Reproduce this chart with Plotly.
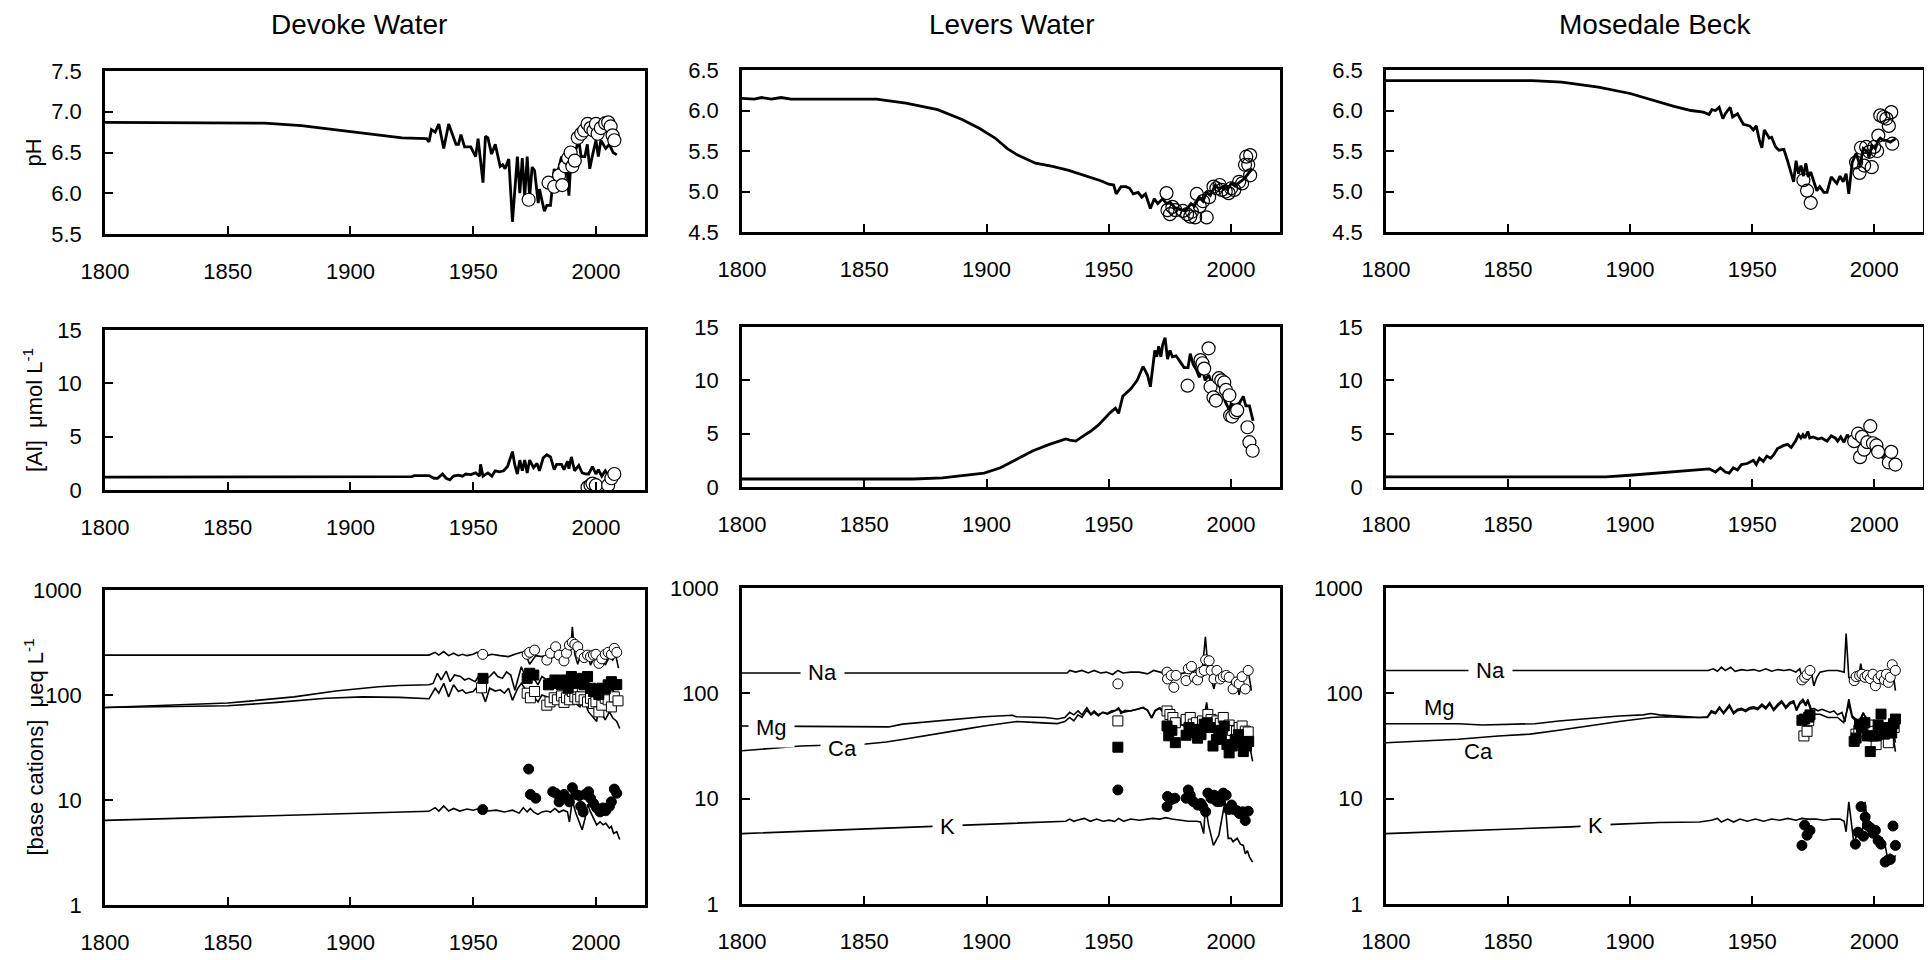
import math
import plotly.graph_objects as go

W, H = 1932, 960
FONT = "Liberation Sans, Arial, Helvetica, sans-serif"
PAGE_OFF = 8  # the html page places the figure 8 px from the top-left corner

# ======================= DATA =======================
# ---------- Devoke Water ----------
dev_ph_yr = [1800, 1865, 1880, 1894, 1908, 1921, 1931, 1932, 1933, 1934.5, 1936, 1938, 1940, 1943, 1944, 1945,
             1946.5, 1949, 1951, 1952, 1954, 1955, 1956, 1957.5, 1959, 1961, 1962, 1963, 1964.5, 1966, 1968,
             1969, 1970, 1971, 1972, 1973, 1974, 1975, 1976.5, 1977, 1979, 1980, 1981.5, 1983, 1984, 1986, 1987,
             1988, 1989, 1990, 1992, 1993, 1994, 1995.5, 1996.5, 1997.5, 1998.5, 2000, 2001, 2002, 2004, 2005.5,
             2007, 2008.5]
dev_ph = [6.87, 6.86, 6.83, 6.78, 6.73, 6.68, 6.67, 6.63, 6.78, 6.75, 6.85, 6.55, 6.85, 6.60, 6.60, 6.72,
          6.57, 6.57, 6.45, 6.67, 6.13, 6.70, 6.68, 6.48, 6.60, 6.33, 6.35, 6.30, 6.42, 5.65, 6.45,
          6.00, 6.43, 5.95, 6.45, 5.95, 6.32, 6.28, 5.88, 6.05, 5.78, 5.85, 5.85, 6.30, 6.20, 6.45, 6.30,
          6.40, 5.97, 6.50, 6.55, 6.65, 6.45, 6.45, 6.60, 6.30, 6.45, 6.65, 6.45, 6.65, 6.55, 6.60,
          6.50, 6.47]
dev_ph_obs_yr = [1972.6, 1980.7, 1983, 1985, 1986.3, 1987.5, 1988.7, 1989.7, 1990.4, 1991.4, 1992.6, 1994, 1995.2,
                 1996.6, 1997.8, 1999, 2000, 2000.7, 2002, 2003.8, 2005, 2006, 2006.8, 2007.5]
dev_ph_obs = [5.92, 6.13, 6.08, 6.22, 6.10, 6.33, 6.43, 6.50, 6.33, 6.40, 6.68, 6.73, 6.77,
              6.85, 6.80, 6.77, 6.85, 6.73, 6.80, 6.86, 6.87, 6.82, 6.71, 6.65]

dev_al_yr = [1800, 1902, 1903, 1925, 1926, 1932, 1934, 1935.5, 1937.5, 1939, 1940.5, 1942, 1944, 1945.6, 1947,
             1949, 1951, 1952.6, 1953, 1954, 1956, 1957.6, 1959, 1960.7, 1962.4, 1964, 1966, 1967, 1968, 1969,
             1970, 1971, 1972, 1973, 1974.6, 1976, 1977, 1978.5, 1980, 1981.5, 1983, 1984, 1986, 1987, 1988.4,
             1989, 1990, 1991.3, 1993, 1994.4, 1996, 1997, 1998.6, 2000, 2001, 2002.4, 2003.8, 2005, 2006.3, 2007]
dev_al = [1.2, 1.2, 1.25, 1.25, 1.35, 1.35, 1.1, 1.1, 1.5, 1.1, 0.95, 1.3, 1.4, 1.3, 1.5,
          1.45, 1.6, 1.3, 2.4, 1.3, 1.6, 1.3, 1.8, 1.7, 1.8, 2.2, 3.6, 2.3, 1.5, 2.8,
          1.8, 2.8, 1.6, 2.8, 2.1, 2.5, 1.8, 3.0, 3.3, 3.1, 1.9, 2.4, 2.4, 1.9, 2.7,
          2.0, 3.1, 1.8, 2.3, 1.6, 1.5, 1.5, 2.2, 1.5, 1.9, 1.3, 1.8, 1.4, 1.8, 1.4]
dev_al_obs_yr = [1996.6, 1997.8, 1998.6, 2000, 2005, 2006.3, 2007.5]
dev_al_obs = [0.25, 0.45, 0.6, 0.45, 0.45, 1.1, 1.5]

dev_na_yr = [1800, 1932, 1934.5, 1936, 1938, 1940, 1942, 1944, 1945.6, 1947.5, 1950, 1951.6, 1954, 1957.6, 1961,
             1964.4, 1967, 1969.6, 1971, 1973, 1975.5, 1978, 1980, 1981.5, 1985, 1987.5, 1989.7, 1990.4, 1991.4,
             1992.6, 1994, 1995, 1996.6, 1997.8, 1999.5, 2001, 2002.4, 2003.8, 2005.5, 2006.8, 2008, 2009.2]
dev_na = [240, 240, 255, 240, 259, 237, 250, 237, 244, 237, 244, 255, 232, 244, 237,
          232, 244, 255, 255, 196, 237, 232, 240, 223, 240, 250, 259, 447, 244,
          196, 250, 207, 240, 193, 232, 207, 255, 193, 232, 215, 244, 180]
dev_na_obs_yr = [1953.9, 1972, 1973, 1975, 1980, 1981.5, 1983.6, 1985, 1987, 1988, 1989.2, 1990.4, 1991.4, 1992.6,
                 1993.8, 1995.2, 1996.6, 1997.8, 1999, 2000, 2001.2, 2002.4, 2003.8, 2005, 2006.3, 2007.5, 2008.5]
dev_na_obs = [244, 244, 255, 268, 215, 250, 288, 240, 211, 250, 299, 317, 304, 288,
              244, 227, 240, 232, 240, 244, 200, 221, 244, 255, 244, 278, 255]

dev_ca_yr = [1800, 1830, 1850, 1860, 1877, 1894, 1911.5, 1920, 1932, 1933.7, 1935.4, 1937, 1939, 1940.6, 1942.4,
             1944.8, 1946.5, 1948.2, 1950.8, 1952.5, 1954, 1956.7, 1958.5, 1960, 1961.9, 1963.6, 1965.3, 1967,
             1968.2, 1969.6, 1971, 1972, 1973.3, 1974.7, 1976.4, 1978, 1980, 1985, 1987.5, 1990.4, 1992.6,
             1994.4, 1996, 1997.8, 1999.5, 2001, 2002.4, 2004, 2005.5, 2007, 2009]
dev_ca = [76, 80, 84, 88, 96, 109, 120, 123, 125, 129, 161, 139, 169, 134, 155,
          150, 139, 144, 134, 155, 134, 150, 166, 150, 144, 166, 155, 111,
          144, 186, 155, 180, 144, 144, 125, 150, 139, 144, 134, 144, 120,
          139, 113, 125, 108, 98, 116, 103, 116, 110, 96]
dev_ca_obs_yr = [1954, 1972, 1973, 1974.7, 1980.7, 1982, 1983.3, 1984.7, 1986, 1987.5, 1988.7, 1990, 1991.4,
                 1992.6, 1993.8, 1995.2, 1996.6, 1997.8, 1999, 2000, 2001.2, 2002.4, 2003.8, 2005, 2006.3,
                 2007.5, 2008.5]
dev_ca_obs = [144, 144, 161, 155, 125, 129, 139, 129, 125, 139, 116, 150, 136,
              129, 144, 125, 150, 116, 108, 112, 101, 116, 114, 125, 134,
              125, 126]

dev_mg_yr = [1800, 1850, 1870, 1890, 1905, 1920, 1932, 1934.5, 1936, 1938, 1940, 1942, 1944, 1945.6, 1947, 1950,
             1951.7, 1953.4, 1955, 1956.7, 1959, 1961, 1962.7, 1964.4, 1966, 1968, 1969.6, 1971, 1973, 1974.7,
             1976.4, 1978, 1980, 1981.5, 1983.3, 1985, 1986.7, 1988.4, 1990, 1991.8, 1993.5, 1995.2, 1997,
             1998.6, 2000.3, 2001, 2002.4, 2003.8, 2005.5, 2007, 2008.5, 2009.7]
dev_mg = [76, 79, 85, 93, 96, 95, 92, 116, 104, 129, 96, 125, 108, 112, 104, 108,
          120, 108, 86, 116, 109, 112, 104, 116, 89, 114, 129, 116, 108, 96,
          86, 100, 96, 93, 96, 89, 86, 89, 96, 83, 77, 89, 69,
          62, 56, 75, 67, 58, 69, 60, 56, 48]
dev_mg_obs_yr = [1953.4, 1972, 1973.3, 1975, 1980, 1981.3, 1983, 1984.3, 1986, 1987, 1988, 1989.3, 1990.4, 1991.4,
                 1992.6, 1993.8, 1995.2, 1996.6, 1997.8, 1999, 2000, 2001.2, 2002.4, 2003.8, 2005, 2006.3,
                 2007.5, 2009]
dev_mg_obs = [117, 104, 94, 108, 80, 86, 94, 90, 98, 85, 94, 90, 108, 96,
              91, 96, 90, 86, 93, 83, 86, 69, 80, 93, 90, 77,
              96, 88]

dev_k_yr = [1800, 1850, 1900, 1932, 1934.5, 1936, 1938, 1940, 1942, 1944.5, 1947.5, 1950, 1952.5, 1956, 1959.4,
            1962.7, 1966, 1968.7, 1970.4, 1972, 1973.3, 1974.7, 1976.4, 1978, 1980, 1981.5, 1983.3, 1985, 1986.7,
            1988.4, 1989.2, 1990.4, 1991.8, 1993.2, 1994.4, 1995.6, 1996.6, 1997.8, 1999, 2000.3, 2001.7, 2002.9,
            2004, 2005.5, 2006.3, 2007.2, 2008.5, 2009.7]
dev_k = [6.4, 6.9, 7.4, 7.8, 8.45, 7.85, 8.8, 7.85, 8.3, 7.85, 8.2, 8.0, 8.3, 7.85, 8.0,
         7.7, 8.0, 7.5, 8.45, 7.7, 8.3, 7.65, 7.3, 7.7, 7.85, 7.65, 8.3, 7.65, 8.0,
         7.7, 6.2, 10.0, 7.5, 6.0, 5.2, 6.7, 9.1, 7.7, 6.7, 5.8, 6.2, 5.8,
         6.0, 5.4, 5.6, 4.8, 5.0, 4.2]
dev_k_obs_yr = [1953.9, 1972.6, 1973.3, 1975.5, 1982.4, 1983.6, 1985, 1986, 1987, 1988, 1989.2, 1990.4, 1991.8,
                1993.2, 1993.8, 1994.8, 1995.6, 1997, 1997.8, 1999, 2000.3, 2001.7, 2002.9, 2004, 2005.5, 2006.3,
                2007.5, 2008.5]
dev_k_obs = [8.1, 19.7, 11.3, 10.4, 12.0, 11.6, 9.6, 10.8, 11.3, 10.4, 9.6, 13.1, 11.3,
             11.0, 8.7, 7.7, 11.3, 12.0, 10.4, 9.3, 8.4, 7.7, 8.4, 7.9, 8.7, 9.6,
             12.7, 11.6]

# ---------- Levers Water ----------
lev_ph_yr = [1800, 1805, 1808, 1812, 1816, 1820, 1855, 1867, 1880, 1890, 1897, 1903.5, 1908.5, 1912.7, 1920, 1927,
             1933.6, 1940, 1947, 1950, 1952, 1953, 1955, 1957, 1958.5, 1960, 1962, 1963.5, 1965, 1967, 1968.6,
             1970, 1972, 1973.6, 1975, 1977, 1979, 1981, 1982, 1983.6, 1985, 1987, 1988.5, 1990, 1991.5, 1993.6,
             1995, 1997, 1998.5, 2000, 2001.5, 2003.7, 2005.5, 2007, 2008.7]
lev_ph = [6.15, 6.14, 6.16, 6.14, 6.16, 6.14, 6.14, 6.09, 6.01, 5.89, 5.78, 5.66, 5.53, 5.45, 5.35, 5.31,
          5.26, 5.20, 5.13, 5.09, 5.08, 4.97, 5.06, 5.06, 5.04, 4.97, 4.99, 4.93, 4.97, 4.79, 4.91,
          4.85, 4.91, 4.85, 4.87, 4.80, 4.78, 4.76, 4.79, 4.85, 4.82, 4.93, 4.88, 4.99, 4.95, 5.08,
          5.03, 5.06, 5.02, 5.10, 5.07, 5.12, 5.16, 5.22, 5.28]
lev_ph_obs_yr = [1973.6, 1974, 1975, 1976, 1977.2, 1980.3, 1982, 1983.3, 1984, 1985.3, 1986, 1987.2, 1988.5, 1990,
                 1991, 1992.8, 1994, 1995.3, 1996.2, 1997.8, 1999, 2000, 2001.3, 2003.3, 2004.5, 2005.7, 2006.2,
                 2007, 2007.8, 2007.8]
lev_ph_obs = [4.98, 4.77, 4.72, 4.81, 4.77, 4.76, 4.72, 4.69, 4.75, 4.68, 4.97, 4.82, 4.88, 4.68,
              4.93, 5.06, 5.04, 5.08, 5.02, 5.00, 4.98, 5.04, 5.02, 5.12, 5.10, 5.33, 5.43,
              5.33, 5.45, 5.20]

lev_al_yr = [1800, 1870, 1882, 1892, 1899, 1905.7, 1912.4, 1919, 1925.7, 1932.4, 1934, 1936.5, 1939, 1942.4,
             1945.7, 1948, 1950.7, 1952.7, 1954, 1955.7, 1959, 1961.6, 1964, 1965.8, 1967, 1968.8, 1969.6, 1970.4,
             1971.3, 1972, 1973, 1974, 1975, 1976, 1977.5, 1979, 1980.8, 1982.4, 1983.3, 1984.5, 1985.8, 1987,
             1988.3, 1989.4, 1990.8, 1992.5, 1994, 1996, 1997.6, 1999.3, 2000, 2001.8, 2003.5, 2005, 2006, 2007.5,
             2009]
lev_al = [0.75, 0.75, 0.85, 1.1, 1.3, 1.8, 2.6, 3.4, 4.0, 4.5, 4.4, 4.3, 4.7, 5.2,
          5.8, 6.4, 7.0, 7.4, 6.9, 8.5, 9.2, 10.0, 11.3, 10.5, 9.4, 12.8, 12.2, 13.2,
          12.2, 13.3, 14.0, 12.0, 12.8, 12.2, 12.3, 11.8, 11.2, 11.2, 12.5, 11.5, 11.0, 10.3,
          11.0, 10.0, 10.5, 9.5, 9.8, 9.2, 8.0, 7.2, 7.8, 7.6, 7.9, 8.5, 7.6, 7.6,
          6.2]
lev_al_obs_yr = [1982.2, 1987.5, 1988.3, 1989, 1990.8, 1991.6, 1992.8, 1993.8, 1995, 1996, 1997.2, 1997.9, 1999.3,
                 1999.6, 2000.5, 2001.8, 2002.5, 2006.7, 2007.5, 2008.8]
lev_al_obs = [9.5, 11.9, 11.6, 11.1, 13.0, 9.4, 8.4, 8.1, 10.2, 10.0, 9.8, 9.1, 8.6,
              6.7, 6.6, 7.0, 7.2, 5.6, 4.2, 3.4]

lev_na_yr = [1800, 1933, 1934, 1936.5, 1939, 1941.6, 1944, 1946.6, 1949, 1951.6, 1953.7, 1955.8, 1959, 1962.4,
             1965.8, 1968.3, 1971, 1973.3, 1975.8, 1979, 1982.5, 1985.8, 1988.3, 1989.5, 1990.5, 1991.8, 1993,
             1994.2, 1995.6, 1996.8, 1998, 1999.2, 2000.8, 2002.2, 2003.3, 2004.5, 2005.8, 2007, 2008.3]
lev_na = [156, 156, 165, 159, 165, 156, 165, 156, 159, 151, 165, 156, 159, 159,
          153, 165, 159, 153, 159, 153, 159, 165, 177, 344, 177, 142, 110,
          153, 142, 153, 132, 142, 118, 123, 97, 132, 153, 165, 106]
lev_na_obs_yr = [1953.7, 1973.8, 1974, 1975.5, 1976.6, 1977.5, 1981.6, 1982.5, 1983.8, 1985, 1986.3, 1987.7, 1989,
                 1989.6, 1991, 1991.8, 1993, 1994.2, 1995.6, 1996.8, 1998, 1999.2, 2000.8, 2002.2, 2003.3, 2004.5,
                 2005.8, 2007]
lev_na_obs = [123, 159, 137, 148, 114, 148, 132, 171, 180, 142, 134, 159, 165,
              208, 204, 165, 137, 165, 137, 144, 148, 142, 110, 128, 123, 144,
              110, 165]

lev_mg_yr = [1800, 1860, 1865.6, 1882, 1899, 1910.7, 1912, 1924, 1929, 1932, 1934, 1935.7, 1937.4, 1939, 1941,
             1942.7, 1944, 1945.7, 1947.7, 1949.4, 1951, 1952.7, 1954, 1955, 1956.6, 1959, 1961.6, 1964, 1965.8,
             1967.5, 1969, 1970.8, 1972.4, 1974, 1975.8, 1977.5, 1979, 1980.8, 1982.5, 1984, 1985.8, 1987.5,
             1989, 1990, 1990.8, 1992.5, 1994.2, 1996, 1997.5, 1999.2, 2000.8, 2002.5, 2004, 2005.8, 2007.5,
             2008.8]
lev_mg = [49, 48, 51, 55, 60, 62, 60, 59, 57, 59, 66, 62.5, 68, 62.5, 73,
          63.5, 68, 62.5, 66, 64.5, 68, 69, 73, 64.5, 69, 68, 70.6, 73, 69,
          59, 69, 73, 68, 62.5, 56.7, 52.7, 54.7, 52.7, 56.7, 54.7, 52.7, 56.7,
          59.7, 82, 59, 54.7, 52.7, 59, 52.7, 47.2, 43.9, 45.5, 42.3, 48, 37.9,
          32.7]
lev_mg_obs_yr = [1953.7, 1973.8, 1975, 1976.2, 1977.2, 1981.6, 1983.3, 1984.5, 1985.8, 1988.3, 1989.5, 1990.5,
                 1991.8, 1993, 1994.2, 1995.6, 1996.8, 1998, 1999.2, 2000.5, 2002.2, 2003.3, 2004.5, 2005.8, 2007]
lev_mg_obs = [54.7, 68, 63, 59, 52.6, 56.5, 59, 51, 52.6, 54.7, 50, 63,
              56.5, 47.4, 54.7, 52, 59, 47.4, 50, 44.5, 43.8, 47.4, 49, 43.8, 43]

lev_ca_yr = [1800, 1824, 1850.6, 1859, 1865.6, 1874, 1882, 1890.6, 1899, 1907, 1912.4, 1919, 1924, 1929, 1932,
             1934, 1935.7, 1937.4, 1939, 1941, 1942.7, 1944, 1945.7, 1947.4, 1949.4, 1951, 1952.7, 1954, 1955.8,
             1959, 1961.6, 1964, 1965.8, 1967.5, 1969, 1970.8, 1972.4, 1974, 1975.8, 1977.5, 1979, 1980.8,
             1982.5, 1984, 1985.8, 1987.5, 1989, 1990, 1990.8, 1992.5, 1994.2, 1996, 1997.5, 1999.2, 2000.8,
             2002.5, 2004, 2005.8, 2007.5, 2008.8]
lev_ca = [28.5, 31.6, 33, 34.5, 36.5, 39.5, 42.5, 45.5, 49, 52, 54, 53, 52, 51.6, 54,
          59, 54.7, 62.5, 59, 69, 62.5, 65.8, 61, 65.8, 63.4, 65.8, 68.2, 70.6, 65.8,
          68.2, 70.6, 73.4, 69.3, 58, 68.2, 72, 65.8, 59, 52.7, 50, 51, 49,
          52.7, 50, 48, 51.6, 53.6, 72, 52.7, 49, 45.5, 52.7, 47.2, 41, 37.9,
          39.5, 36.5, 44, 32.7, 22.6]
lev_ca_obs_yr = [1953.7, 1973.8, 1974.5, 1975.8, 1977.2, 1981.6, 1982.8, 1983.8, 1985, 1986.3, 1987.7, 1989,
                 1990.2, 1991.3, 1992.6, 1994, 1995, 1996, 1997.2, 1998.3, 1999.2, 2000.5, 2001.7, 2003, 2004,
                 2005, 2006.3, 2007.2]
lev_ca_obs = [30.8, 49, 39.5, 44.5, 34, 40, 47.4, 42.5, 45.5, 37.5, 40.5, 51,
              52.6, 47.4, 31.6, 36.5, 44.5, 40.5, 49, 32.6, 27.2, 31.6, 36.5, 40.5, 34,
              28, 31.6, 35]

lev_k_yr = [1800, 1875, 1892, 1915.7, 1932.4, 1934, 1935.7, 1937, 1940, 1942.4, 1945, 1947.7, 1950, 1952.4, 1954,
            1956, 1959, 1962.4, 1965.8, 1968, 1970.8, 1973.3, 1975.8, 1979, 1982.5, 1985.8, 1987.5, 1988.8, 1989.5,
            1990.8, 1992.8, 1995, 1996.7, 1997.5, 1998.8, 2000, 2000.8, 2002.5, 2003.8, 2005, 2005.8, 2006.7,
            2007.5, 2008.8]
lev_k = [4.66, 5.4, 5.6, 5.93, 6.1, 6.4, 6.1, 6.25, 6.5, 6.1, 6.4, 6.1, 6.25, 6.1, 6.5,
         6.1, 6.4, 6.25, 6.4, 6.5, 6.4, 6.6, 6.4, 6.25, 6.1, 6.1, 6.0, 4.66, 8.7,
         5.6, 3.6, 4.5, 7.2, 9.4, 4.2, 4.2, 3.9, 4.2, 3.7, 3.6, 3.0, 3.2,
         2.8, 2.5]
lev_k_obs_yr = [1953.7, 1973.8, 1974, 1975.5, 1977, 1981.6, 1982.5, 1983.3, 1984.5, 1986.3, 1987.7, 1988.4, 1989.6,
                1990.5, 1991.8, 1993, 1994.2, 1995.6, 1996.8, 1998, 1999, 2000.2, 2001, 2002.3, 2003.5, 2004.7,
                2005.8, 2007]
lev_k_obs = [12.1, 8.4, 10.5, 9.8, 10.1, 10.1, 12.1, 10.8, 9.4, 8.7, 9.0, 8.4, 7.5,
             11.3, 10.1, 10.8, 9.4, 9.4, 11.3, 10.8, 7.9, 8.7, 7.9, 7.7, 7.2, 7.5,
             6.2, 7.6]

# ---------- Mosedale Beck ----------
mos_ph_yr = [1800, 1860, 1872, 1887, 1900, 1910, 1918, 1925, 1930, 1932.4, 1933.5, 1935, 1936.5, 1938, 1939, 1941,
             1942, 1944, 1945, 1946.4, 1949, 1950.5, 1951.7, 1953, 1954, 1955, 1956, 1957, 1958, 1959.6, 1961,
             1963, 1964.5, 1966, 1967, 1968, 1969, 1970, 1971, 1972, 1973, 1974, 1975, 1976.5, 1977.7, 1979.4,
             1980.7, 1982.4, 1983.5, 1984.7, 1986, 1987.3, 1988.5, 1989.6, 1991, 1992.6, 1994.2, 1995.5, 1997.2,
             1997.9, 1999, 2000.5, 2001.6, 2002.5, 2003.8, 2005, 2006.6, 2008.7]
mos_ph = [6.37, 6.37, 6.35, 6.29, 6.21, 6.12, 6.05, 6.00, 5.98, 5.95, 6.01, 6.00, 6.04, 5.90, 5.96, 6.04,
          5.92, 5.96, 5.90, 5.83, 5.81, 5.76, 5.81, 5.63, 5.54, 5.76, 5.71, 5.66, 5.67, 5.55, 5.51,
          5.52, 5.38, 5.22, 5.12, 5.38, 5.22, 5.32, 5.19, 5.35, 5.18, 5.24, 5.14, 5.01, 5.06, 4.99,
          4.99, 5.18, 5.14, 5.10, 5.19, 5.12, 5.22, 4.97, 5.36, 5.47, 5.32, 5.53, 5.49,
          5.42, 5.57, 5.53, 5.63, 5.66, 5.63, 5.63, 5.61, 5.65]
mos_ph_obs_yr = [1971, 1972.5, 1974, 1992.6, 1994, 1994.6, 1995.9, 1996.7, 1998, 1999, 2000, 2001.2, 2001.7,
                 2002.5, 2003.8, 2005, 2006, 2007, 2007.4]
mos_ph_obs = [5.14, 5.01, 4.86, 5.36, 5.23, 5.54, 5.32, 5.55, 5.49, 5.30, 5.55, 5.50, 5.69,
              5.94, 5.92, 5.90, 5.81, 5.98, 5.59]

mos_al_yr = [1800, 1890, 1900, 1912, 1921.7, 1928, 1932.4, 1935, 1937, 1939, 1940.6, 1942.3, 1944, 1945.6, 1948,
             1950.5, 1951.7, 1953, 1954.6, 1956, 1957.6, 1958.8, 1960.4, 1963, 1964.5, 1966, 1967.8, 1969, 1970,
             1970.8, 1971.6, 1972.8, 1973.6, 1975, 1977, 1978.5, 1980.7, 1982.4, 1984, 1985, 1986.3, 1987.6, 1989,
             1990, 1991.8, 1993.4, 1995, 1996.7, 1998.4, 2000, 2001.6, 2003.3, 2005, 2006.6, 2008.2]
mos_al = [0.95, 0.95, 1.1, 1.3, 1.5, 1.6, 1.7, 1.4, 1.8, 1.4, 1.3, 1.8, 1.6, 2.1, 2.2,
          2.5, 2.1, 2.7, 2.4, 2.9, 2.7, 3.0, 3.6, 3.9, 4.0, 3.7, 4.3, 4.9, 4.6,
          4.9, 4.6, 5.2, 4.6, 4.7, 4.5, 4.6, 4.3, 4.8, 4.6, 4.3, 4.7, 4.2, 4.9,
          4.5, 4.5, 3.9, 4.5, 3.8, 3.5, 3.3, 3.2, 2.8, 3.2, 3.0, 2.4]
mos_al_obs_yr = [1991.8, 1993.4, 1994.2, 1995, 1995.9, 1997.2, 1998.4, 1999.5, 2000.9, 2001.6, 2006, 2007, 2008.7]
mos_al_obs = [4.3, 5.0, 2.8, 4.7, 3.5, 4.2, 5.7, 4.1, 3.9, 3.3, 2.3, 3.3, 2.1]

mos_na_yr = [1800, 1932, 1934, 1935.8, 1937.4, 1939, 1941.2, 1943, 1945.7, 1948, 1950.6, 1953, 1955.6, 1958, 1960.5,
             1963, 1965.4, 1967.9, 1969.5, 1970.8, 1972, 1973.2, 1974.5, 1975.3, 1976.5, 1977.8, 1981, 1985,
             1987.7, 1988.5, 1989.6, 1991, 1992.3, 1993.4, 1994.5, 1995.5, 1996.7, 1998.4, 2000, 2001.6, 2003.3,
             2004.9, 2006.6, 2007.7, 2008.7]
mos_na = [165, 165, 171, 162, 177, 165, 177, 162, 168, 165, 168, 162, 171, 162, 168,
          165, 168, 159, 171, 132, 159, 165, 148, 118, 142, 159, 165, 165,
          159, 370, 142, 127, 142, 132, 191, 142, 153, 142, 137, 148, 127,
          142, 148, 159, 106]
mos_na_obs_yr = [1970.4, 1971.5, 1972.5, 1973.7, 1991.8, 1992.6, 1994, 1995, 1996.2, 1997.2, 1998.4, 1999.5, 2000.5,
                 2001.6, 2002.8, 2004.2, 2005, 2005.8, 2006.6, 2007.4, 2008.7]
mos_na_obs = [134, 142, 151, 165, 132, 144, 148, 152, 142, 148, 138, 152, 118,
              138, 148, 134, 152, 127, 142, 187, 165]

mos_mg_yr = [1800, 1829.6, 1839.5, 1852.7, 1861, 1870.8, 1882.3, 1895.5, 1905.3, 1908.6, 1912, 1918.5, 1928.4,
             1931.7, 1933.3, 1935, 1936.6, 1938.3, 1940.7, 1942.4, 1944, 1945.7, 1947.3, 1949, 1950.6, 1952.3,
             1954, 1955.6, 1957.2, 1958.8, 1960.5, 1962.1, 1963.8, 1965.4, 1967, 1968.2, 1969.5, 1970.8, 1972,
             1972.8, 1974.2, 1975.3, 1977, 1978.6, 1980.2, 1981.9, 1983.5, 1985, 1986.8, 1988, 1989.6, 1991,
             1992.6, 1994, 1995.5, 1996.7, 1998.4, 2000, 2001.6, 2003.3, 2005, 2006.6, 2007.7, 2008.7]
mos_mg = [51.5, 51.5, 50.1, 50.8, 51.5, 54.7, 57.5, 61, 62.5, 64.3, 62.5, 61, 59,
          60, 68.2, 65.8, 74.5, 65.8, 77.8, 65.8, 70.6, 72, 69.3, 73.4, 74.5, 72,
          78.9, 73.4, 82, 70.6, 78.9, 85, 74.5, 82, 85, 70.6, 82, 88, 78.9,
          88, 70.6, 72, 68.2, 70.6, 68.2, 65.8, 68.2, 62.5, 65.8, 53.6, 88, 61,
          56.7, 50.8, 64.3, 59, 45.5, 50.8, 47.2, 50.1, 45.5, 50.8, 47.2, 34]
mos_mg_obs_yr = [1971.2, 1972.5, 1973.2, 1992.5, 1993.7, 1994.8, 1996.2, 1997.2, 1998.4, 1999.5, 2000.8, 2002,
                 2003.3, 2004.5, 2005.8, 2007, 2008.2]
mos_mg_obs = [39.4, 43.6, 55, 41, 44.6, 47.4, 43.6, 47.4, 50, 43.6, 32.6, 42,
              45, 41, 34, 47.4, 47.4]

mos_ca_yr = [1800, 1829.6, 1846, 1859, 1870.8, 1882.3, 1895.5, 1908.6, 1915.2, 1921.8, 1928.4, 1931.7,
             1933.3, 1935, 1936.6, 1938.3, 1940.7, 1942.4, 1944, 1945.7, 1947.3, 1949, 1950.6, 1952.3, 1954,
             1955.6, 1957.2, 1958.8, 1960.5, 1962.1, 1963.8, 1965.4, 1967, 1968.2, 1969.5, 1970.8, 1972, 1972.8,
             1974.5, 1977.8, 1981, 1985, 1987.5, 1989.6, 1991, 1992.6, 1994, 1995.5, 1996.7, 1998.4, 2000,
             2001.6, 2003.3, 2005, 2006.6, 2007.7, 2008.7]
mos_ca = [34, 36.6, 39.4, 41, 44.6, 49, 54, 59, 60, 59, 58.4, 59,
          66, 64, 72, 64, 75, 64, 68.5, 70, 67, 71, 72, 70, 76,
          71, 79, 68.5, 76, 82, 72, 79, 82, 68.5, 79, 84, 76, 84,
          63.4, 63.4, 59, 59, 52.7, 78.9, 59, 54.7, 54.7, 65.8, 56.7, 40.7, 47.2,
          43.9, 47.2, 40.7, 45.5, 40.7, 28]
mos_ca_obs_yr = [1970.4, 1971.5, 1973.2, 1973.7, 1991.8, 1992.6, 1994, 1995, 1996.2, 1997.2, 1998.4, 1999.5, 2000.8,
                 2001.6, 2002.8, 2004.2, 2005, 2005.8, 2007.2, 2007.9, 2008.7]
mos_ca_obs = [55.5, 57, 59.5, 62.4, 35, 37.6, 51, 47.4, 52.6, 39.4, 28, 39.4, 39.4,
              50, 63.5, 41, 43, 47.4, 42, 51.5, 57]

mos_k_yr = [1800, 1875.7, 1893, 1912, 1928.4, 1933.3, 1935.8, 1937.4, 1940, 1942.4, 1945, 1948, 1951.4, 1954.7,
            1958, 1961.3, 1964.6, 1967.9, 1970.4, 1972.8, 1976.1, 1979.4, 1982.7, 1986, 1987.7, 1988.5, 1989.6,
            1991, 1991.8, 1993, 1994, 1995.2, 1996.3, 1997.2, 1998.4, 1999.5, 2000.8, 2002.1, 2003.3, 2004.5,
            2005.5, 2006.6, 2007.7, 2008.7]
mos_k = [4.66, 5.4, 5.7, 5.93, 6.0, 6.25, 6.5, 6.0, 6.4, 6.0, 6.4, 6.1, 6.4, 6.1,
         6.4, 6.25, 6.5, 6.25, 6.5, 6.4, 6.4, 6.25, 6.4, 6.4, 6.1, 4.85, 9.35,
         5.4, 3.6, 4.85, 4.5, 5.0, 9.35, 5.6, 5.2, 4.5, 4.2, 4.0, 4.2, 3.6,
         2.7, 3.0, 2.5, 2.9]
mos_k_obs_yr = [1970.4, 1971.5, 1972.5, 1973.7, 1992.3, 1993.4, 1994.6, 1995.6, 1996.3, 1997.2, 1998.4, 1999.5,
                2000.5, 2001.6, 2002.8, 2004.5, 2005.5, 2006.6, 2007.7, 2008.7]
mos_k_obs = [3.6, 5.6, 4.5, 5.0, 3.7, 4.8, 8.4, 4.4, 6.7, 5.6, 5.3, 4.7,
             5.0, 4.0, 3.7, 2.5, 2.6, 2.65, 5.5, 3.6]

# ---------- text / ticks ----------
site_titles = ["Devoke Water", "Levers Water", "Mosedale Beck"]
year_ticks = [1800, 1850, 1900, 1950, 2000]
ph_ticks_dev = [5.5, 6.0, 6.5, 7.0, 7.5]
ph_ticks_other = [4.5, 5.0, 5.5, 6.0, 6.5]
al_ticks = [0, 5, 10, 15]
bc_ticks = [1, 10, 100, 1000]

# ======================= LAYOUT GEOMETRY (screen pixels) =======================
col_px = [(105, 645), (742, 1280), (1386, 1923)]
row_px = {  # per column: (top, bottom) for the 3 rows
    0: [(71, 234), (330, 490), (590, 905)],
    1: [(70, 232), (327, 487), (588, 904)],
    2: [(70, 232), (327, 487), (588, 904)],
}


def fx(px):
    return (px - PAGE_OFF) / W


def fy(py):
    return 1 - (py - PAGE_OFF) / H


fig = go.Figure()


def axname(n, letter):
    return letter if n == 1 else f"{letter}{n}"


def add_line(n, xs, ys, width):
    fig.add_trace(go.Scatter(x=xs, y=ys, mode="lines", line=dict(color="black", width=width),
                             xaxis=axname(n, "x"), yaxis=axname(n, "y"), hoverinfo="skip"))


def add_pts(n, xs, ys, symbol, size, fill, lw=1.2):
    fig.add_trace(go.Scatter(x=xs, y=ys, mode="markers",
                             marker=dict(symbol=symbol, size=size, color=fill,
                                         line=dict(color="black", width=lw)),
                             xaxis=axname(n, "x"), yaxis=axname(n, "y"), hoverinfo="skip"))


PH_W = 2.8
BC_W = 1.6
OBS = 13
BCS = 10

# Row 1: pH
add_line(1, dev_ph_yr, dev_ph, PH_W)
add_pts(1, dev_ph_obs_yr, dev_ph_obs, "circle", OBS, "white")
add_line(2, lev_ph_yr, lev_ph, PH_W)
add_pts(2, lev_ph_obs_yr, lev_ph_obs, "circle", OBS, "rgba(0,0,0,0)")
add_line(3, mos_ph_yr, mos_ph, PH_W)
add_pts(3, mos_ph_obs_yr, mos_ph_obs, "circle", OBS, "rgba(0,0,0,0)")

# Row 2: Al
add_line(4, dev_al_yr, dev_al, PH_W)
add_pts(4, dev_al_obs_yr, dev_al_obs, "circle", OBS, "white")
add_line(5, lev_al_yr, lev_al, PH_W)
add_pts(5, lev_al_obs_yr, lev_al_obs, "circle", OBS, "white")
add_line(6, mos_al_yr, mos_al, PH_W)
add_pts(6, mos_al_obs_yr, mos_al_obs, "circle", OBS, "white")

# Row 3: base cations
site_bc = [
    (7, dev_na_yr, dev_na, dev_mg_yr, dev_mg, dev_ca_yr, dev_ca, dev_k_yr, dev_k,
     dev_na_obs_yr, dev_na_obs, dev_mg_obs_yr, dev_mg_obs, dev_ca_obs_yr, dev_ca_obs, dev_k_obs_yr, dev_k_obs),
    (8, lev_na_yr, lev_na, lev_mg_yr, lev_mg, lev_ca_yr, lev_ca, lev_k_yr, lev_k,
     lev_na_obs_yr, lev_na_obs, lev_mg_obs_yr, lev_mg_obs, lev_ca_obs_yr, lev_ca_obs, lev_k_obs_yr, lev_k_obs),
    (9, mos_na_yr, mos_na, mos_mg_yr, mos_mg, mos_ca_yr, mos_ca, mos_k_yr, mos_k,
     mos_na_obs_yr, mos_na_obs, mos_mg_obs_yr, mos_mg_obs, mos_ca_obs_yr, mos_ca_obs, mos_k_obs_yr, mos_k_obs),
]
for (n, nay, na, mgy, mg, cay, ca, ky, k, naoy, nao, mgoy, mgo, caoy, cao, koy, ko) in site_bc:
    add_line(n, nay, na, BC_W)
    add_line(n, mgy, mg, BC_W)
    add_line(n, cay, ca, BC_W)
    add_line(n, ky, k, BC_W)
    add_pts(n, mgoy, mgo, "square", BCS, "white", 1.0)
    add_pts(n, caoy, cao, "square", BCS, "black", 1.0)
    add_pts(n, naoy, nao, "circle", BCS, "white", 1.0)
    add_pts(n, koy, ko, "circle", BCS, "black", 1.0)

# ---------- axes ----------
tickfont = dict(family=FONT, size=22, color="black")
layout_axes = {}
for c in range(3):
    for r in range(3):
        n = r * 3 + c + 1
        x0, x1 = col_px[c]
        top, bot = row_px[c][r]
        xa = dict(domain=[fx(x0), fx(x1)], anchor=axname(n, "y"), range=[1800, 2020],
                  tickvals=year_ticks, ticks="inside", ticklen=8, tickwidth=2, tickcolor="black",
                  showline=True, linecolor="black", linewidth=2.5, mirror=True,
                  showgrid=False, zeroline=False, tickfont=tickfont, ticklabelstandoff=16,
                  automargin=False, fixedrange=True)
        ya = dict(domain=[fy(bot), fy(top)], anchor=axname(n, "x"),
                  ticks="inside", ticklen=8, tickwidth=2, tickcolor="black",
                  showline=True, linecolor="black", linewidth=2.5, mirror=True,
                  showgrid=False, zeroline=False, tickfont=tickfont, ticklabelstandoff=16,
                  automargin=False, fixedrange=True)
        if r == 0:
            tv = ph_ticks_dev if c == 0 else ph_ticks_other
            ya.update(range=[tv[0], tv[-1]], tickvals=tv, tickformat=".1f")
        elif r == 1:
            ya.update(range=[0, 15], tickvals=al_ticks)
        else:
            ya.update(type="log", range=[0, 3], tickvals=bc_ticks, ticktext=[str(v) for v in bc_ticks])
        layout_axes[("xaxis" if n == 1 else f"xaxis{n}")] = xa
        layout_axes[("yaxis" if n == 1 else f"yaxis{n}")] = ya

fig.update_layout(**layout_axes)

# ---------- annotations ----------
ann = []
title_x = [359, 1011, 1655]
for t, xc in zip(site_titles, title_x):
    ann.append(dict(text=t, x=fx(xc), y=1.0, xref="paper", yref="paper", showarrow=False,
                    xanchor="center", yanchor="top", borderpad=0,
                    font=dict(family=FONT, size=28, color="black")))

ytitles = [("pH", (71 + 234) / 2), ("[Al]  \u03bcmol L<sup>-1</sup>", (330 + 490) / 2),
           ("[base cations]  \u03bceq L<sup>-1</sup>", (590 + 905) / 2)]
for t, yc in ytitles:
    ann.append(dict(text=t, x=fx(33), y=fy(yc), xref="paper", yref="paper", showarrow=False,
                    textangle=-90, xanchor="center", yanchor="middle",
                    font=dict(family=FONT, size=22, color="black")))

ion_labels = [
    (8, "Na", 1833, 156, True), (8, "Mg", 1812, 47, True), (8, "Ca", 1841, 30, True), (8, "K", 1884, 5.4, True),
    (9, "Na", 1843, 165, True), (9, "Mg", 1822, 73, False), (9, "Ca", 1838, 28, False), (9, "K", 1886, 5.6, True),
]
for n, t, xv, yv, gap in ion_labels:
    a = dict(text=t, x=xv, y=math.log10(yv), xref=axname(n, "x"), yref=axname(n, "y"),
             showarrow=False, xanchor="center", yanchor="middle",
             font=dict(family=FONT, size=22, color="black"))
    if gap:
        a.update(bgcolor="white", borderpad=7)
    ann.append(a)

fig.update_layout(
    template="none",
    width=W, height=H, margin=dict(l=0, r=0, t=0, b=0, autoexpand=False),
    paper_bgcolor="white", plot_bgcolor="white", showlegend=False,
    annotations=ann, font=dict(family=FONT, color="black"),
)

fig.write_html("out.html")
